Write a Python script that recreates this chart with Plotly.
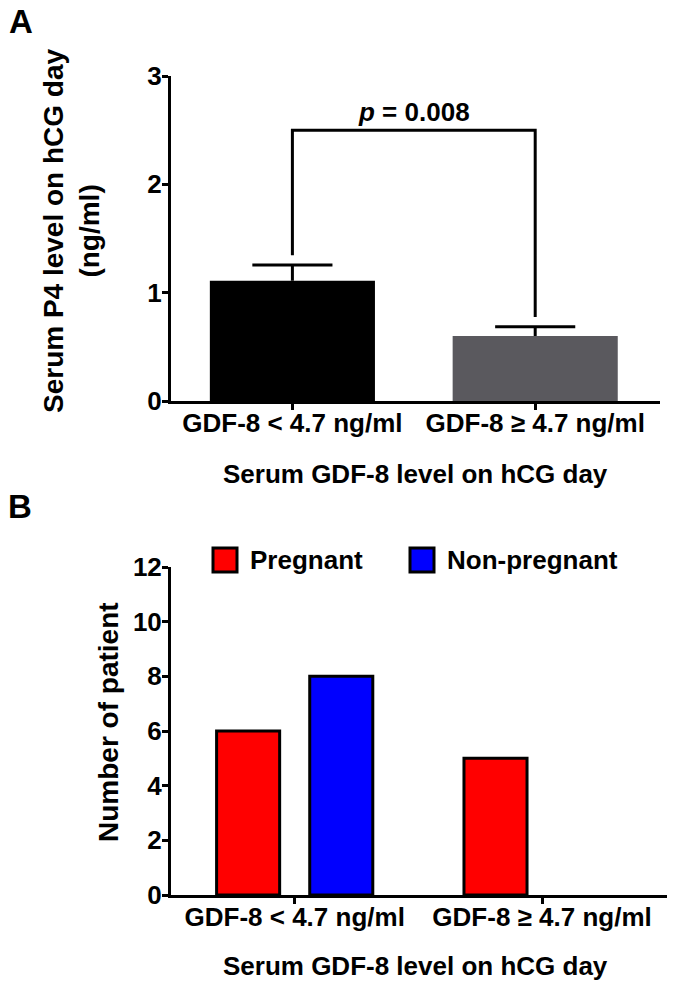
import plotly.graph_objects as go

# ---------------- data ----------------
categories = ["GDF-8 < 4.7 ng/ml", "GDF-8 ≥ 4.7 ng/ml"]

# Panel A: serum P4 (mean and SEM)
p4_mean = [1.11, 0.60]
p4_sem = [0.145, 0.085]
p4_colors = ["#000000", "#5a595e"]
p4_ticks = [0, 1, 2, 3]
p_value_text = "<i>p</i> = 0.008"
bracket_level = 2.5

# Panel B: number of patients
series_names = ["Pregnant", "Non-pregnant"]
pregnant = [6, 5]
non_pregnant = [8, 0]
series_colors = ["#ff0000", "#0000ff"]
count_ticks = [0, 2, 4, 6, 8, 10, 12]

# ---------------- layout helpers ----------------
W, H = 675, 987
FONT = "Liberation Sans, Arial, Helvetica, sans-serif"


def px(x):
    return x / W


def py(y):
    return 1 - y / H


fig = go.Figure()

# ---------- Panel A ----------
fig.add_trace(go.Bar(
    x=list(range(len(categories))), y=p4_mean, width=0.68,
    marker=dict(color=p4_colors, line=dict(width=0)),
    xaxis="x", yaxis="y", showlegend=False, hoverinfo="skip"))

cap = 0.165
ex, ey = [], []
for i, (m, s) in enumerate(zip(p4_mean, p4_sem)):
    ex += [i, i, None, i - cap, i + cap, None]
    ey += [m, m + s, None, m + s, m + s, None]
fig.add_trace(go.Scatter(x=ex, y=ey, mode="lines",
                         line=dict(color="black", width=3),
                         xaxis="x", yaxis="y", showlegend=False, hoverinfo="skip"))

gap = 0.09
bx = [0, 0, 1, 1]
by = [p4_mean[0] + p4_sem[0] + gap, bracket_level, bracket_level,
      p4_mean[1] + p4_sem[1] + gap]
fig.add_trace(go.Scatter(x=bx, y=by, mode="lines",
                         line=dict(color="black", width=3),
                         xaxis="x", yaxis="y", showlegend=False, hoverinfo="skip"))

# ---------- Panel B ----------
for name, vals, col in zip(series_names, [pregnant, non_pregnant], series_colors):
    fig.add_trace(go.Bar(
        x=list(range(len(categories))), y=vals, name=name,
        marker=dict(color=col, line=dict(color="black",
                                         width=[3 if v > 0 else 0 for v in vals])),
        xaxis="x2", yaxis="y2", showlegend=False, hoverinfo="skip"))

axis_common = dict(showline=True, linewidth=3, linecolor="black",
                   ticks="outside", ticklen=6, tickwidth=3, tickcolor="black",
                   showgrid=False, zeroline=False, fixedrange=True, automargin=False)

xtickfont = dict(family=FONT, size=26, color="black", weight="bold")
ytickfont = dict(family=FONT, size=26, color="black", weight="bold")

fig.update_layout(
    width=W, height=H,
    margin=dict(l=0, r=0, t=0, b=0, pad=0, autoexpand=False),
    paper_bgcolor="white", plot_bgcolor="white",
    font=dict(family=FONT, color="black", weight="bold"),
    showlegend=False,
    barmode="group", bargap=0.247, bargroupgap=0.323,
    xaxis=dict(domain=[px(171), px(660)], range=[-0.5, 1.514], anchor="y",
               tickvals=list(range(len(categories))), ticktext=categories,
               tickfont=xtickfont, ticklabelstandoff=-9, **axis_common),
    yaxis=dict(domain=[py(401), py(76)], range=[0, 3], anchor="x",
               tickvals=p4_ticks, tickfont=ytickfont, ticklabelstandoff=-5,
               **axis_common),
    xaxis2=dict(domain=[px(171), px(667)], range=[-0.5, 1.505], anchor="y2",
                tickvals=list(range(len(categories))), ticktext=categories,
                tickfont=xtickfont, ticklabelstandoff=-9, **axis_common),
    yaxis2=dict(domain=[py(895), py(567)], range=[0, 12], anchor="x2",
                tickvals=count_ticks, tickfont=ytickfont, ticklabelstandoff=-5,
                **axis_common),
)

ann = []
# panel letters
ann.append(dict(text="A", x=px(7), y=py(21.5), xref="paper", yref="paper",
                xanchor="left", yanchor="middle", showarrow=False,
                font=dict(family=FONT, size=33, color="black", weight="bold")))
ann.append(dict(text="B", x=px(6), y=py(506.5), xref="paper", yref="paper",
                xanchor="left", yanchor="middle", showarrow=False,
                font=dict(family=FONT, size=33, color="black", weight="bold")))
# y titles
ann.append(dict(text="Serum P4 level on hCG day<br>(ng/ml)", x=px(71), y=py(231),
                xref="paper", yref="paper", textangle=-90, showarrow=False,
                xanchor="center", yanchor="middle",
                font=dict(family=FONT, size=28, color="black", weight="bold")))
ann.append(dict(text="Number of patient", x=px(108), y=py(722),
                xref="paper", yref="paper", textangle=-90, showarrow=False,
                xanchor="center", yanchor="middle",
                font=dict(family=FONT, size=28, color="black", weight="bold")))
# x titles
for yc in (474, 966):
    ann.append(dict(text="Serum GDF-8 level on hCG day", x=px(415), y=py(yc),
                    xref="paper", yref="paper", showarrow=False,
                    xanchor="center", yanchor="middle",
                    font=dict(family=FONT, size=26, color="black", weight="bold")))
# p value
ann.append(dict(text=p_value_text, x=0.5, y=bracket_level, xref="x", yref="y",
                xanchor="center", yanchor="bottom", yshift=1, showarrow=False,
                font=dict(family=FONT, size=26, color="black", weight="bold")))

# legend (panel B)
shapes = []
leg_x = [213, 410]
for name, col, lx in zip(series_names, series_colors, leg_x):
    shapes.append(dict(type="rect", xref="paper", yref="paper",
                       x0=px(lx), x1=px(lx + 24), y0=py(572), y1=py(548),
                       fillcolor=col, line=dict(color="black", width=3)))
    ann.append(dict(text=name, x=px(lx + 35), y=py(560), xref="paper", yref="paper",
                    xanchor="left", yanchor="middle", showarrow=False,
                    font=dict(family=FONT, size=26, color="black", weight="bold")))

fig.update_layout(annotations=ann, shapes=shapes)

fig.write_html("out.html", config={"displayModeBar": False},
               post_script="document.body.style.margin='0';document.body.style.padding='0';")
